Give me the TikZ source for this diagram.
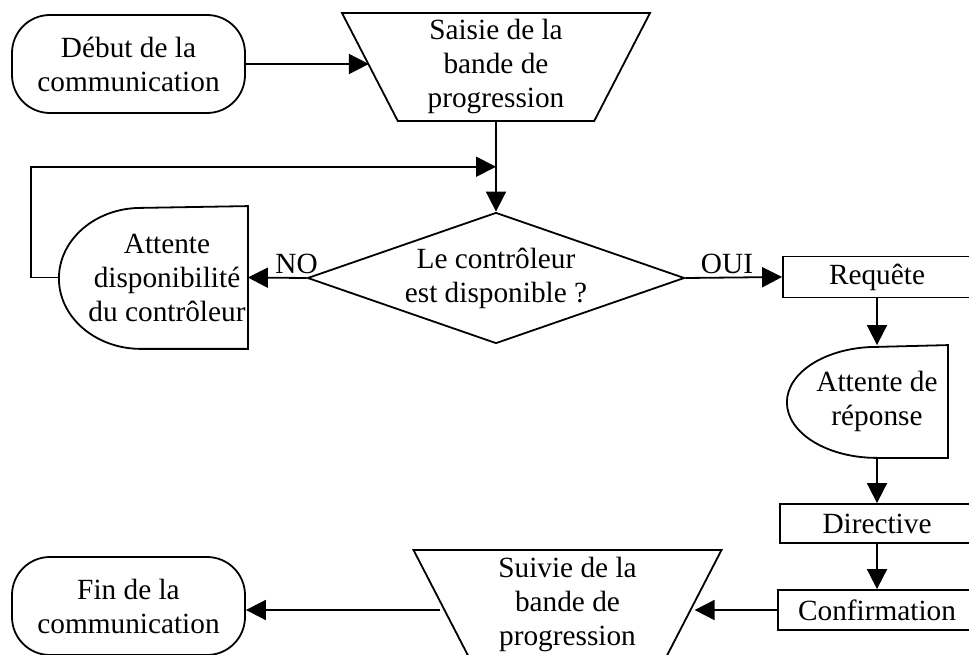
\documentclass[tikz,border=0pt]{standalone}
\usepackage{fontspec}
\setmainfont{Liberation Serif}
\usetikzlibrary{shapes.geometric, arrows.meta, calc}

\begin{document}
\begin{tikzpicture}[
    x=1pt, y=1pt,
    line width=1.8pt,
    every node/.style={font=\fontsize{29.3}{34}\selectfont, align=center},
    terminal/.style={rectangle, draw, rounded corners=38pt, minimum width=233pt, minimum height=98pt},
    manual/.style={trapezium, draw, trapezium left angle=120, trapezium right angle=120, trapezium stretches body, minimum width=308pt, minimum height=108pt, inner sep=1pt},
    process/.style={rectangle, draw, minimum height=40pt},
    delaybox/.style={rectangle, inner sep=0pt},
    decision/.style={diamond, draw, minimum width=377pt, minimum height=131pt, inner sep=0pt},
    flow/.style={-{Triangle[length=20pt, width=20pt]}},
    flowlabel/.style={above}
]
    % Frame
    \useasboundingbox (0,0) rectangle (969,654);
    \clip (0,0) rectangle (969,654);

    % Shapes
    \node[terminal] (start) at (128.5,590) {Début de la\\communication};
    \node[manual] (saisie) at (496,587) {Saisie de la\\bande de\\progression};
    \node[decision, label={center:Le contrôleur\\est disponible ?}] (dispo) at (496,376) {};
    \node[delaybox, minimum width=160pt, minimum height=141pt] (attdispo) at (167,376.5) {Attente\\disponibilité\\du contrôleur};
    \node[process, minimum width=188pt, minimum height=41pt] (requete) at (877,377) {Requête};
    \node[delaybox, minimum width=140pt, minimum height=111pt] (attrep) at (877,252.5) {Attente de\\réponse};
    \node[process, minimum width=194pt, minimum height=39pt] (directive) at (877,130.5) {Directive};
    \node[process, minimum width=198pt] (confirm) at (877,44) {Confirmation};
    \node[manual] (suivie) at (567.5,50) {Suivie de la\\bande de\\progression};
    \node[terminal] (fin) at (128.5,48) {Fin de la\\communication};

    % Delay outlines
    \draw (attdispo.north east) -- (attdispo.south east) -- ++(-107,0)
        arc[start angle=-90, end angle=-270, x radius=82, y radius=70.5] -- cycle;
    \draw (attrep.north east) -- (attrep.south east) -- ++(-71,0)
        arc[start angle=-90, end angle=-270, x radius=90, y radius=55.5] -- cycle;
    \coordinate (attdispo-w) at ([xshift=-189pt]attdispo.east);
    \coordinate (retour) at ($(saisie.south)!0.5!(dispo.north)$);

    % Connectors
    \draw[flow] (start.east) -- (start.east -| saisie.west);
    \draw[flow] (saisie.south) -- (dispo.north);
    \draw[flow] (attdispo-w) -- ++(-28,0) |- (retour);
    \draw[flow] (dispo.west) -- (attdispo.east) node[flowlabel, pos=0.17] {NO};
    \draw[flow] (dispo.east) -- (requete.west) node[flowlabel, pos=0.43] {OUI};
    \draw[flow] (requete) -- (attrep);
    \draw[flow] (attrep) -- (directive);
    \draw[flow] (directive) -- (confirm);
    \draw[flow] (confirm.west) -- (confirm.west -| suivie.east);
    \draw[flow] (suivie.west |- confirm.west) -- (confirm.west -| fin.east);
\end{tikzpicture}
\end{document}
